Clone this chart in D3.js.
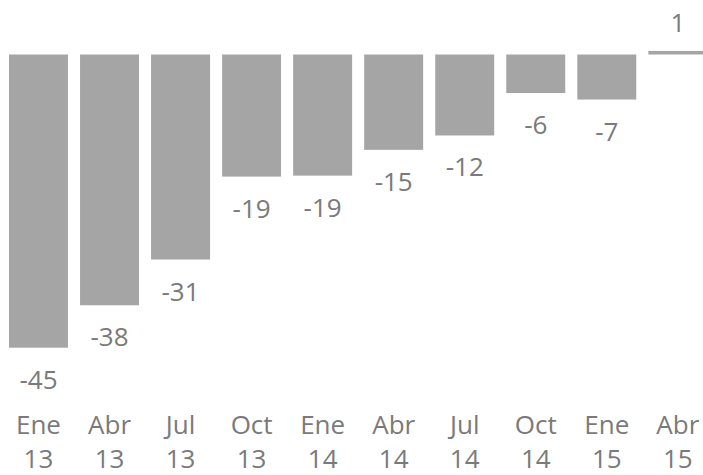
<!DOCTYPE html>
<html>
<head>
<meta charset="utf-8">
<script src="https://cdn.jsdelivr.net/npm/d3@7"></script>
<style>
  html, body { margin: 0; padding: 0; background: #fff; overflow: hidden; }
  svg { display: block; }
  text { font-family: "Open Sans", "Noto Sans", sans-serif; fill: #7a7a7a; }
</style>
</head>
<body>
<svg id="chart" width="703" height="475"></svg>
<script>
const months = ["Ene", "Abr", "Jul", "Oct", "Ene", "Abr", "Jul", "Oct", "Ene", "Abr"];
const years  = ["13", "13", "13", "13", "14", "14", "14", "14", "15", "15"];
const values = [-44.9, -38.4, -31.4, -18.7, -18.55, -14.6, -12.4, -5.9, -6.9, 0.55];

const data = months.map((m, i) => ({ key: m + " " + years[i], month: m, year: years[i], value: values[i] }));

const svg = d3.select("#chart");

const x = d3.scaleBand()
  .domain(data.map(d => d.key))
  .range([2.96, 713.36])
  .paddingInner(0.17)
  .paddingOuter(0.085);

const y = d3.scaleLinear()
  .domain([-50, 0])
  .range([381, 54.5]);

const fmt = d3.formatLocale({ decimal: ",", thousands: ".", grouping: [3], currency: ["", ""], minus: "-" }).format(".0f");

svg.append("g")
  .selectAll("rect")
  .data(data)
  .join("rect")
  .attr("x", d => x(d.key))
  .attr("width", x.bandwidth())
  .attr("y", d => Math.min(y(d.value), y(0)))
  .attr("height", d => Math.abs(y(d.value) - y(0)))
  .attr("fill", "#a5a5a5");

svg.append("g")
  .selectAll("text")
  .data(data)
  .join("text")
  .attr("x", d => x(d.key) + x.bandwidth() / 2)
  .attr("y", d => d.value < 0 ? y(d.value) + 41 : y(d.value) - 19)
  .attr("text-anchor", "middle")
  .attr("font-size", 26)
  .text(d => fmt(d.value));

// category axis (two-line labels)
const xAxis = d3.axisBottom(x).tickSize(0).tickFormat(() => "");
const axisG = svg.append("g").call(xAxis);
axisG.select(".domain").remove();
axisG.selectAll(".tick").each(function(d, i) {
  const t = d3.select(this).select("text")
    .attr("y", 0).attr("dy", null)
    .attr("font-size", 26)
    .attr("fill", "#7a7a7a")
    .attr("font-family", "Open Sans, Noto Sans, sans-serif")
    .text(null);
  t.append("tspan").attr("x", 0).attr("y", 434).text(data[i].month);
  t.append("tspan").attr("x", 0).attr("y", 467.5).text(data[i].year);
});
</script>
</body>
</html>
